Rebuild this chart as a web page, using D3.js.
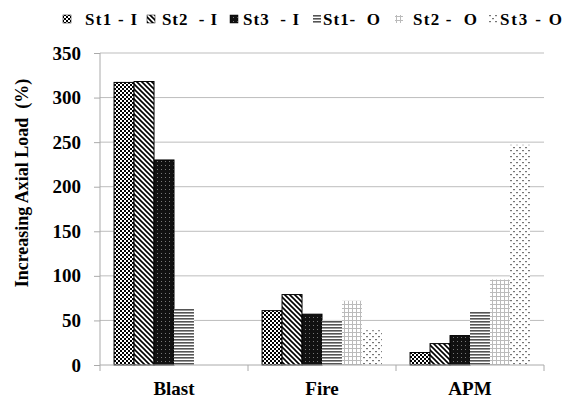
<!DOCTYPE html>
<html><head><meta charset="utf-8">
<script src="https://cdn.jsdelivr.net/npm/d3@7"></script>
<style>body{margin:0;background:#fff}svg{display:block}</style>
</head><body>
<script>
const categories = ["Blast", "Fire", "APM"];
const seriesNames = ["St1 - I", "St2  - I", "St3  - I", "St1-  O", "St2 -  O", "St3 - O"];
const st1I = [317, 61, 14];
const st2I = [318, 79, 24];
const st3I = [230, 57, 33];
const st1O = [63, 50, 60];
const st2O = [0, 72, 96];
const st3O = [0, 39, 247];
const yTicks = [0, 50, 100, 150, 200, 250, 300, 350];
const seriesValues = [st1I, st2I, st3I, st1O, st2O, st3O];

const FONT = '"Liberation Serif", monospace';
const W = 571, H = 401;
const M = {left: 100, right: 544, top: 53, bottom: 365};
const svg = d3.select("body").append("svg").attr("width", W).attr("height", H);
const defs = svg.append("defs");

function pat(id, w, h, draw) {
  const p = defs.append("pattern").attr("id", id).attr("patternUnits", "userSpaceOnUse")
    .attr("width", w).attr("height", h);
  draw(p);
}
pat("p0", 4, 4, p => {
  p.append("rect").attr("width", 4).attr("height", 4).attr("fill", "#000");
  p.append("rect").attr("x", 0).attr("y", 0).attr("width", 2).attr("height", 2).attr("fill", "#fff");
  p.append("rect").attr("x", 2).attr("y", 2).attr("width", 2).attr("height", 2).attr("fill", "#fff");
});
pat("p1", 5, 5, p => {
  p.append("rect").attr("width", 5).attr("height", 5).attr("fill", "#fff");
  p.append("path").attr("d", "M-1,-1L6,6M-1,4L1,6M4,-1L6,1").attr("stroke", "#000").attr("stroke-width", 1.6);
});
pat("p2", 4, 4, p => {
  p.append("rect").attr("width", 4).attr("height", 4).attr("fill", "#111");
  p.append("rect").attr("x", 1).attr("y", 1).attr("width", 1).attr("height", 1).attr("fill", "#777");
});
pat("p3", 4, 3, p => {
  p.append("rect").attr("width", 4).attr("height", 3).attr("fill", "#fff");
  p.append("rect").attr("y", 0).attr("width", 4).attr("height", 1.6).attr("fill", "#555");
});
pat("p4", 4, 4, p => {
  p.append("rect").attr("width", 4).attr("height", 4).attr("fill", "#fff");
  p.append("rect").attr("x", 0).attr("width", 1).attr("height", 4).attr("fill", "#bbb");
  p.append("rect").attr("y", 0).attr("width", 4).attr("height", 1).attr("fill", "#bbb");
});
pat("p5", 6, 6, p => {
  p.append("rect").attr("width", 6).attr("height", 6).attr("fill", "#fff");
  p.append("rect").attr("x", 0).attr("y", 0).attr("width", 2).attr("height", 1.2).attr("fill", "#777");
  p.append("rect").attr("x", 3).attr("y", 3).attr("width", 2).attr("height", 1.2).attr("fill", "#777");
});
const fills = ["url(#p0)", "url(#p1)", "url(#p2)", "url(#p3)", "url(#p4)", "url(#p5)"];
const strokes = ["#000", "#000", "#000", "none", "none", "none"];

const x0 = d3.scaleBand().domain(categories).range([M.left, M.right]).padding(0);
const x1 = d3.scaleBand().domain(seriesNames).range([x0.bandwidth() * 0.095, x0.bandwidth() * 0.905]).padding(0);
const y = d3.scaleLinear().domain([0, 350]).range([M.bottom, M.top]);

// gridlines
svg.append("g").selectAll("line").data(yTicks.filter(t => t > 0)).join("line")
  .attr("x1", M.left).attr("x2", M.right).attr("y1", d => y(d)).attr("y2", d => y(d))
  .attr("stroke", "#bdbdbd").attr("stroke-width", 1);

// bars
const g = svg.append("g");
categories.forEach((c, ci) => {
  seriesNames.forEach((s, si) => {
    const v = seriesValues[si][ci];
    if (v <= 0) return;
    g.append("rect")
      .attr("x", x0(c) + x1(s)).attr("y", y(v))
      .attr("width", x1.bandwidth()).attr("height", y(0) - y(v))
      .attr("fill", fills[si])
      .attr("stroke", strokes[si]).attr("stroke-width", 1);
  });
});

// y axis
const yAxis = svg.append("g").attr("transform", `translate(${M.left},0)`)
  .call(d3.axisLeft(y).tickValues(yTicks).tickSize(6).tickPadding(13).tickFormat(d3.format("d")));
yAxis.attr("font-family", FONT).attr("font-size", 19);
yAxis.select(".domain").attr("stroke", "#aaa").attr("d", `M-0,${M.top}V${M.bottom}`);
yAxis.selectAll(".tick line").attr("stroke", "#aaa");
yAxis.selectAll("text").style("font-family", FONT).style("font-size", "19px").style("font-weight", "bold").attr("fill", "#000");

// x axis
const xAxis = svg.append("g").attr("transform", `translate(0,${M.bottom})`);
xAxis.append("line").attr("x1", M.left).attr("x2", M.right).attr("stroke", "#aaa");
const bounds = categories.map(c => x0(c)).concat([x0(categories[categories.length - 1]) + x0.bandwidth()]);
xAxis.selectAll(".tk").data(bounds).join("line").attr("class", "tk")
  .attr("x1", d => d).attr("x2", d => d).attr("y1", 0).attr("y2", 6).attr("stroke", "#aaa");
xAxis.selectAll(".lbl").data(categories).join("text").attr("class", "lbl")
  .attr("x", d => x0(d) + x0.bandwidth() / 2).attr("y", 30)
  .attr("text-anchor", "middle")
  .style("font-family", FONT).style("font-size", "19px").style("font-weight", "bold")
  .text(d => d);

// y title
svg.append("text").attr("transform", `translate(28,183) rotate(-90)`)
  .attr("text-anchor", "middle")
  .style("font-family", FONT).style("font-size", "18px").style("font-weight", "bold")
  .style("white-space", "pre")
  .text("Increasing Axial Load  (%)");

// legend (layout)
const legSym = [63, 147, 230, 313, 395, 489];
const legTX = [85, 162, 243, 323, 413, 500];
const legTW = [52, 55, 56, 57, 64, 62];
const leg = svg.append("g");
seriesNames.forEach((s, i) => {
  leg.append("rect").attr("x", legSym[i]).attr("y", 15).attr("width", 8).attr("height", 8)
    .attr("fill", fills[i]).attr("stroke", strokes[i] === "none" ? "none" : "#000").attr("stroke-width", 0.5);
  leg.append("text").attr("x", legTX[i]).attr("y", 25)
    .attr("textLength", legTW[i]).attr("lengthAdjust", "spacing")
    .style("font-family", FONT).style("font-size", "17px").style("font-weight", "bold")
    .style("white-space", "pre").text(s);
});
</script>
</body></html>
